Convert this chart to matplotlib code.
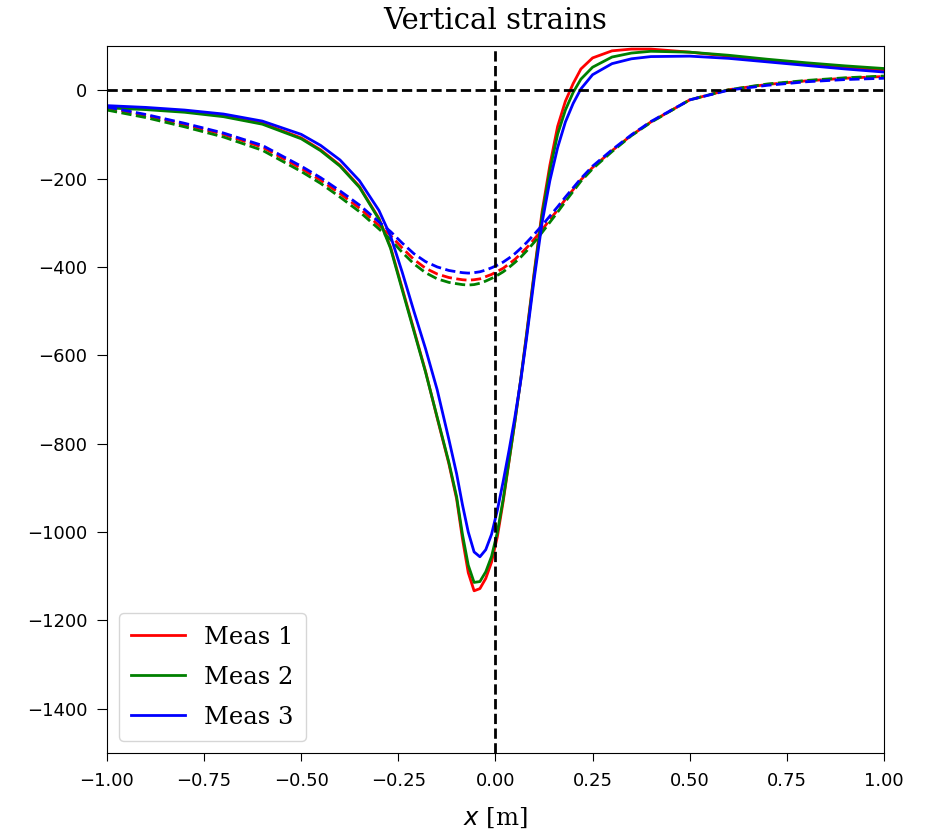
import matplotlib
matplotlib.use('Agg')
import matplotlib.pyplot as plt

# shared x positions [m]
x = [-1.0, -0.9, -0.8, -0.7, -0.6, -0.5, -0.45, -0.4, -0.35, -0.3,
     -0.27, -0.24, -0.21, -0.18, -0.15, -0.12,
     -0.10, -0.085, -0.07, -0.055, -0.04, -0.025, -0.01,
     0.005, 0.02, 0.035, 0.05, 0.065, 0.08,
     0.10, 0.12, 0.14, 0.16, 0.18, 0.20, 0.22,
     0.25, 0.30, 0.35, 0.40,
     0.5, 0.6, 0.7, 0.8, 0.9, 1.0]

# solid curves
meas1 = [-38, -42, -48, -58, -75, -108, -135, -170, -218, -290,
         -355, -448, -542, -636, -742, -845,
         -925, -1015, -1092, -1133, -1128, -1105, -1068,
         -1010, -930, -840, -750, -655, -552,
         -410, -275, -170, -82, -25, 15, 48,
         73, 89, 93, 93,
         86, 77, 68, 60, 52, 45]
meas2 = [-40, -44, -50, -60, -77, -110, -137, -172, -220, -292,
         -358, -452, -545, -638, -740, -842,
         -920, -1005, -1075, -1114, -1112, -1090, -1055,
         -1000, -925, -838, -750, -655, -555,
         -415, -283, -182, -100, -45, -5, 25,
         52, 75, 84, 88,
         86, 79, 70, 62, 55, 49]
meas3 = [-35, -39, -45, -54, -70, -100, -125, -158, -205, -272,
         -330, -412, -500, -585, -678, -790,
         -868, -938, -1000, -1045, -1056, -1040, -1005,
         -950, -885, -815, -740, -658, -562,
         -425, -300, -205, -130, -72, -30, 3,
         35, 60, 71, 76,
         77, 72, 64, 56, 48, 41]

# dashed curves
meas1_d = [-40, -57, -78, -100, -129, -177, -204, -234, -267, -306,
           -329, -357, -383, -403, -416, -424,
           -427, -429, -430, -429, -427, -422, -417,
           -410, -403, -393, -383, -370, -357,
           -337, -316, -293, -271, -247, -225, -203,
           -175, -137, -102, -72,
           -22, 1, 13, 21, 27, 31]
meas2_d = [-45, -62, -83, -106, -136, -184, -211, -242, -275, -314,
           -338, -367, -393, -413, -427, -435,
           -438, -440, -441, -440, -437, -432, -426,
           -419, -411, -401, -390, -378, -364,
           -344, -322, -299, -276, -252, -229, -206,
           -178, -139, -103, -73,
           -22, 1, 14, 22, 28, 32]
meas3_d = [-38, -55, -75, -97, -125, -172, -198, -228, -260, -298,
           -320, -346, -370, -388, -400, -408,
           -411, -413, -414, -413, -411, -407, -402,
           -396, -389, -380, -370, -358, -345,
           -326, -306, -285, -264, -242, -221, -200,
           -172, -135, -101, -71,
           -22, 0, 11, 19, 24, 27]

labels = ['Meas 1', 'Meas 2', 'Meas 3']
colors = ['red', 'green', 'blue']

fig = plt.figure(figsize=(9.3, 8.36), dpi=100)
ax = fig.add_axes([0.115, 0.0993, 0.8355, 0.8457])

for solid, dashed, c, lab in zip([meas1, meas2, meas3], [meas1_d, meas2_d, meas3_d], colors, labels):
    ax.plot(x, solid, color=c, linewidth=2, label=lab)
    ax.plot(x, dashed, color=c, linewidth=2, linestyle='--')

ax.axhline(0, color='black', linewidth=2, linestyle='--')
ax.axvline(0, color='black', linewidth=2, linestyle='--')

ax.set_xlim(-1, 1)
ax.set_ylim(-1500, 100)
ax.set_xticks([-1.0, -0.75, -0.5, -0.25, 0.0, 0.25, 0.5, 0.75, 1.0])
ax.set_yticks([0, -200, -400, -600, -800, -1000, -1200, -1400])
ax.tick_params(labelsize=13, length=6)
ax.tick_params(axis='x', pad=8)
ax.tick_params(axis='y', length=7, pad=7)

ax.set_title('Vertical strains', family='DejaVu Serif', fontsize=21, pad=12)
ax.set_xlabel('$x$ [m]', family='DejaVu Serif', fontsize=17.5, labelpad=11)
ax.legend(loc='lower left', prop={'family': 'DejaVu Serif', 'size': 17.5},
          handlelength=2.2, labelspacing=0.7, borderpad=0.5)

plt.savefig('out.png', dpi=100)
